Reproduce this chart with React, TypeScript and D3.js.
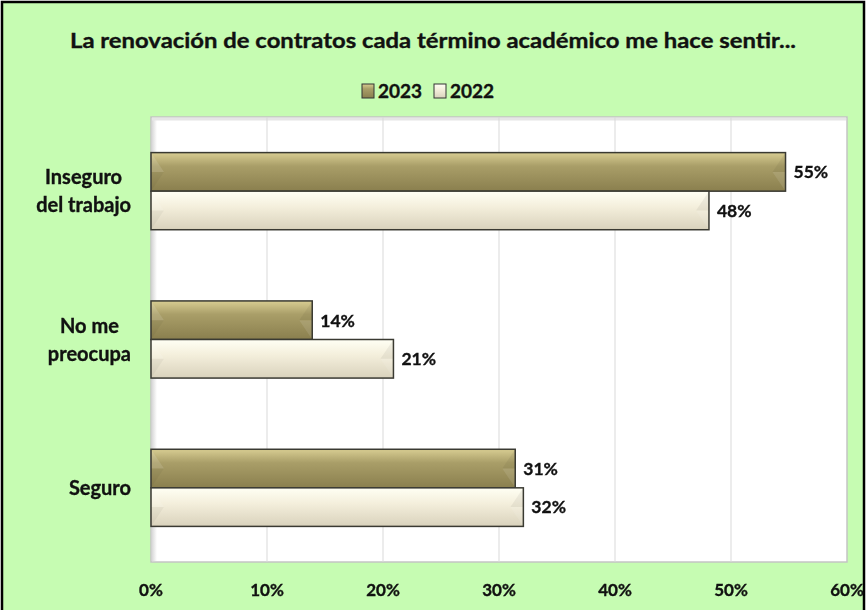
import React from 'react';
import * as d3 from 'd3';

// chart data
const title = 'La renovación de contratos cada término académico me hace sentir...';
const categories = ['Inseguro del trabajo', 'No me preocupa', 'Seguro'];
const categoryLines = [['Inseguro', 'del trabajo'], ['No me', 'preocupa'], ['Seguro']];
const seriesNames = ['2023', '2022'];
const values2023 = [54.7, 13.9, 31.4];
const values2022 = [48.1, 20.9, 32.1];
const tickValues = [0, 10, 20, 30, 40, 50, 60];

const W = 866;
const H = 610;
const plot = { left: 151, right: 847, top: 117, bottom: 562 };
const font = "Lato, 'Open Sans', sans-serif";
const catSize = 20;
const labelRight = 131;

// measure text width so multi-line category labels are centred as a right-aligned block
const measure = (() => {
    const ctx = document.createElement('canvas').getContext('2d');
    return (s: string, size: number) => {
        if (!ctx) return s.length * size * 0.5;
        ctx.font = `bold ${size}px ${font}`;
        return ctx.measureText(s).width;
    };
})();

const App = () => {
    const x = d3.scaleLinear().domain([0, 60]).range([plot.left, plot.right]);
    const y = d3.scaleBand<string>()
        .domain(categories)
        .range([plot.top, plot.bottom])
        .paddingInner(0.48)
        .paddingOuter(0.24);
    const ySub = d3.scaleBand<string>().domain(seriesNames).range([0, y.bandwidth()]);
    const fmt = (v: number) => `${Math.round(v)}%`;

    const series = [
        { name: '2023', values: values2023, grad: 'g2023' },
        { name: '2022', values: values2022, grad: 'g2022' },
    ];

    const textProps = { fontFamily: font, fontWeight: 'bold', fill: '#111', stroke: '#111', strokeWidth: 0.35 };

    // beveled bar: gradient body plus shaded triangles at both ends
    const bar = (x0: number, x1: number, y0: number, h: number, grad: string) => {
        const b = Math.min(13, (x1 - x0) / 2);
        const ym = y0 + h / 2;
        return (
            <g>
                <rect x={x0} y={y0} width={x1 - x0} height={h} fill={`url(#${grad})`} />
                <polygon points={`${x0},${y0} ${x0 + b},${ym} ${x0},${ym}`} fill="#fff" fillOpacity={0.12} />
                <polygon points={`${x0},${ym} ${x0 + b},${ym} ${x0},${y0 + h}`} fill="#000" fillOpacity={0.04} />
                <polygon points={`${x1},${y0} ${x1 - b},${ym} ${x1},${ym}`} fill="#000" fillOpacity={0.05} />
                <polygon points={`${x1},${ym} ${x1 - b},${ym} ${x1},${y0 + h}`} fill="#fff" fillOpacity={0.1} />
                <rect x={x0} y={y0} width={x1 - x0} height={h} fill="none" stroke="#3a3a32" strokeWidth={1.5} />
            </g>
        );
    };

    return (
        <div style={{ position: 'fixed', left: 0, top: 0 }}>
            <svg width={W} height={H} style={{ display: 'block' }}>
                <defs>
                    <linearGradient id="g2023" x1="0" y1="0" x2="0" y2="1">
                        <stop offset="0" stopColor="#d8cd92" />
                        <stop offset="0.35" stopColor="#a99e68" />
                        <stop offset="1" stopColor="#8a7f4e" />
                    </linearGradient>
                    <linearGradient id="g2022" x1="0" y1="0" x2="0" y2="1">
                        <stop offset="0" stopColor="#fffff4" />
                        <stop offset="0.4" stopColor="#f4efdc" />
                        <stop offset="1" stopColor="#d9d2bc" />
                    </linearGradient>
                    <linearGradient id="wallShade" x1="0" y1="0" x2="1" y2="0">
                        <stop offset="0" stopColor="#c8c8c8" />
                        <stop offset="1" stopColor="#ffffff" />
                    </linearGradient>
                </defs>

                {/* chart area */}
                <rect x={2} y={2} width={W - 4} height={H + 10} fill="#c6fcb2" stroke="#000" strokeWidth={2.5} />

                {/* title */}
                <text x={W / 2} y={48} textAnchor="middle" fontSize={21} textLength={726}
                    lengthAdjust="spacingAndGlyphs" {...textProps}>{title}</text>

                {/* legend */}
                {seriesNames.map((name, i) => {
                    const lx = 362 + i * 72;
                    return (
                        <g key={name}>
                            <rect x={lx} y={84} width={12} height={14} fill={`url(#g${name})`} stroke="#333" strokeWidth={1} />
                            <text x={lx + 16} y={98} fontSize={19} {...textProps}>{name}</text>
                        </g>
                    );
                })}

                {/* plot area */}
                <rect x={plot.left} y={plot.top} width={plot.right - plot.left} height={plot.bottom - plot.top}
                    fill="#fff" stroke="#c4c4c4" strokeWidth={1.5} />
                <rect x={plot.left + 1} y={plot.top + 1} width={5} height={plot.bottom - plot.top - 2} fill="url(#wallShade)" opacity={0.7} />
                <line x1={plot.left + 1} x2={plot.right - 1} y1={plot.top + 2} y2={plot.top + 2} stroke="#e6e6e6" strokeWidth={3} />
                {tickValues.slice(1, -1).map(t => (
                    <line key={t} x1={x(t)} x2={x(t)} y1={plot.top} y2={plot.bottom} stroke="#d9d9d9" strokeWidth={1} />
                ))}

                {/* bars */}
                {categories.map((c, ci) => series.map(s => {
                    const y0 = (y(c) ?? 0) + (ySub(s.name) ?? 0);
                    const h = ySub.bandwidth();
                    const v = s.values[ci];
                    return (
                        <g key={c + s.name}>
                            {bar(x(0), x(v), y0, h, s.grad)}
                            <text x={x(v) + 8} y={y0 + h / 2} dy="0.36em" fontSize={17.5} {...textProps}>{fmt(v)}</text>
                        </g>
                    );
                }))}

                {/* category labels */}
                {categories.map((c, ci) => {
                    const lines = categoryLines[ci];
                    const cy = (y(c) ?? 0) + y.bandwidth() / 2;
                    const blockW = d3.max(lines, l => measure(l, catSize)) ?? 0;
                    const cx = labelRight - blockW / 2;
                    return (
                        <text key={c} textAnchor="middle" fontSize={catSize} {...textProps}>
                            {lines.map((l, li) => (
                                <tspan key={l} x={cx} y={cy + (li - (lines.length - 1) / 2) * 28} dy="0.36em">{l}</tspan>
                            ))}
                        </text>
                    );
                })}

                {/* x tick labels */}
                {tickValues.map(t => (
                    <text key={t} x={x(t)} y={596} textAnchor="middle" fontSize={17} {...textProps}>{`${t}%`}</text>
                ))}
            </svg>
        </div>
    );
};

export default App;
